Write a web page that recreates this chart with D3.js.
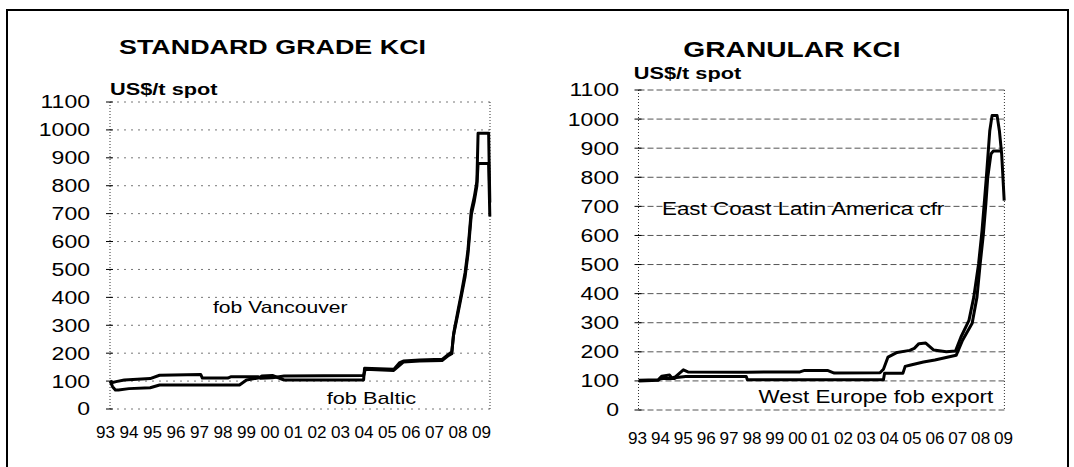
<!DOCTYPE html>
<html><head><meta charset="utf-8">
<script src="https://cdn.jsdelivr.net/npm/d3@7"></script>
<style>
body{margin:0;background:#fff;}
svg{display:block;}
text{font-family:Arial,"Liberation Sans",sans-serif;fill:#000;}
</style>
</head><body>
<svg id="c" width="1074" height="467"></svg>
<script>
// ---------- DATA ----------
const tickYears  = [1993,1994,1995,1996,1997,1998,1999,2000,2001,2002,2003,2004,2005,2006,2007,2008,2009];
const tickLabels = ["93","94","95","96","97","98","99","00","01","02","03","04","05","06","07","08","09"];
const yTicks = [0,100,200,300,400,500,600,700,800,900,1000,1100];

// Standard grade KCl, US$/t spot  [year, value]
const stdVancouver = [[1993.2,100],[1993.3,95],[1993.45,98],[1993.8,104],[1994.9,109],[1995.3,121],[1997.05,124],[1997.12,111],[1998.2,111],[1998.35,116],[1999.5,116],[1999.6,110],[2000.1,112],[2000.6,118],[2003.98,120],[2004.05,142],[2005.26,138],[2005.67,168],[2006.36,172],[2007.32,174],[2007.6,192],[2007.73,198],[2007.8,262],[2008.0,345],[2008.14,405],[2008.3,475],[2008.42,555],[2008.5,635],[2008.56,695],[2008.69,745],[2008.8,800],[2008.85,880],[2009.3,880],[2009.35,690]];
const stdBaltic = [[1993.2,100],[1993.3,80],[1993.42,68],[1993.55,68],[1994.0,73],[1994.9,76],[1995.3,86],[1998.7,86],[1999.0,104],[1999.55,112],[1999.65,118],[2000.1,120],[2000.6,104],[2003.98,104],[2004.02,146],[2005.26,142],[2005.5,165],[2005.67,172],[2006.36,176],[2007.32,178],[2007.6,196],[2007.73,204],[2007.82,275],[2008.0,355],[2008.14,415],[2008.3,490],[2008.42,570],[2008.5,650],[2008.56,710],[2008.69,760],[2008.8,815],[2008.85,988],[2009.3,988],[2009.35,740]];

// Granular KCl, US$/t spot
const granECLA = [[1993.05,102],[1993.9,104],[1994.05,116],[1994.4,120],[1994.5,110],[1994.65,114],[1995.0,138],[1995.2,131],[1997.8,130],[2000.1,131],[2000.3,136],[2001.3,136],[2001.6,127],[2003.6,128],[2003.75,140],[2003.95,182],[2004.35,198],[2004.9,205],[2005.1,212],[2005.3,228],[2005.6,230],[2005.95,206],[2006.5,200],[2006.9,203],[2007.14,251],[2007.49,308],[2007.7,388],[2007.91,502],[2008.06,616],[2008.25,800],[2008.4,960],[2008.5,1012],[2008.72,1012],[2008.82,960],[2008.92,880],[2009.03,720]];
const granWE = [[1993.05,100],[1993.9,102],[1994.0,108],[1994.6,108],[1994.7,112],[1995.1,115],[1997.75,115],[1997.8,104],[2003.75,104],[2003.8,126],[2004.6,126],[2004.7,150],[2004.9,154],[2005.5,165],[2006.0,172],[2006.93,188],[2007.21,240],[2007.63,298],[2007.84,388],[2007.98,502],[2008.12,605],[2008.23,709],[2008.31,799],[2008.45,880],[2008.55,890],[2008.9,890]];

// ---------- LAYOUT ----------
const SX = 1.28; // horizontal stretch of the scanned type
const svg = d3.select("#c");

svg.append("rect").attr("x",7).attr("y",10).attr("width",1061).attr("height",470)
  .attr("fill","none").attr("stroke","#000").attr("stroke-width",2);

function txt(g, x, y, s, o) {
  g.append("text")
    .attr("transform", `translate(${x},${y}) scale(${o.sx||SX},1)`)
    .attr("text-anchor", o.anchor || "start")
    .attr("dy", o.dy || null)
    .style("font-size", o.size + "px")
    .style("font-weight", o.bold ? "bold" : "normal")
    .text(s);
}

const panels = [
  { title:"STANDARD GRADE KCI", tSize:21, tx:272.5, ty:54,
    unitX:110, unitY:95,
    x0:110, x1:490, yTop:102, yBot:409, r93:105.5, r09:481.6,
    ylabX:90, xlabY:438,
    grid:{stroke:"#777", dash:"2,5"},
    series:[stdVancouver, stdBaltic],
    notes:[{s:"fob Vancouver", x:213, y:313, size:16.5},{s:"fob Baltic", x:326.7, y:404, size:17}] },
  { title:"GRANULAR KCI", tSize:22, tx:792, ty:57,
    unitX:633.7, unitY:79,
    x0:638.5, x1:1004.4, yTop:90, yBot:410, r93:637.6, r09:1003.5,
    ylabX:619, xlabY:444,
    grid:{stroke:"#555", dash:"6,3"},
    series:[granECLA, granWE],
    notes:[{s:"East Coast Latin America cfr", x:662, y:215, size:17.5},{s:"West Europe fob export", x:758.6, y:403, size:17.5}] }
];

panels.forEach(p => {
  const g = svg.append("g");
  const x = d3.scaleLinear().domain([tickYears[0], tickYears[tickYears.length-1]]).range([p.r93, p.r09]);
  const y = d3.scaleLinear().domain([0, 1100]).range([p.yBot, p.yTop]);

  // gridlines
  g.selectAll(".grid").data(yTicks).join("line")
    .attr("x1", p.x0).attr("x2", p.x1)
    .attr("y1", d => y(d)).attr("y2", d => y(d))
    .attr("stroke", p.grid.stroke).attr("stroke-width", 1)
    .attr("stroke-dasharray", p.grid.dash);

  // axis & right border (dotted)
  [p.x0, p.x1].forEach(xx => g.append("line")
    .attr("x1", xx).attr("x2", xx).attr("y1", p.yTop).attr("y2", p.yBot)
    .attr("stroke", "#333").attr("stroke-width", 1).attr("stroke-dasharray", "1,2"));

  // tick marks
  g.selectAll(".tk").data(yTicks).join("line")
    .attr("x1", p.x0 - 4).attr("x2", p.x0 + 3)
    .attr("y1", d => y(d)).attr("y2", d => y(d))
    .attr("stroke", "#000").attr("stroke-width", 1);

  // y labels
  yTicks.forEach(v => txt(g, p.ylabX, y(v), String(v), {size:18, anchor:"end", dy:"0.36em"}));

  // x labels
  tickYears.forEach((yr, i) => txt(g, x(yr), p.xlabY, tickLabels[i], {size:16, anchor:"middle", sx:1.07}));

  // title & unit
  txt(g, p.tx, p.ty, p.title, {size:p.tSize, bold:true, anchor:"middle"});
  txt(g, p.unitX, p.unitY, "US$/t spot", {size:17, bold:true});

  // series lines
  const line = d3.line().x(d => x(d[0])).y(d => y(d[1]));
  p.series.forEach(s => g.append("path").datum(s)
    .attr("d", line).attr("fill", "none").attr("stroke", "#000")
    .attr("stroke-width", 3).attr("stroke-linejoin", "round"));

  // series annotations
  p.notes.forEach(n => txt(g, n.x, n.y, n.s, {size:n.size}));
});
</script>
</body></html>
